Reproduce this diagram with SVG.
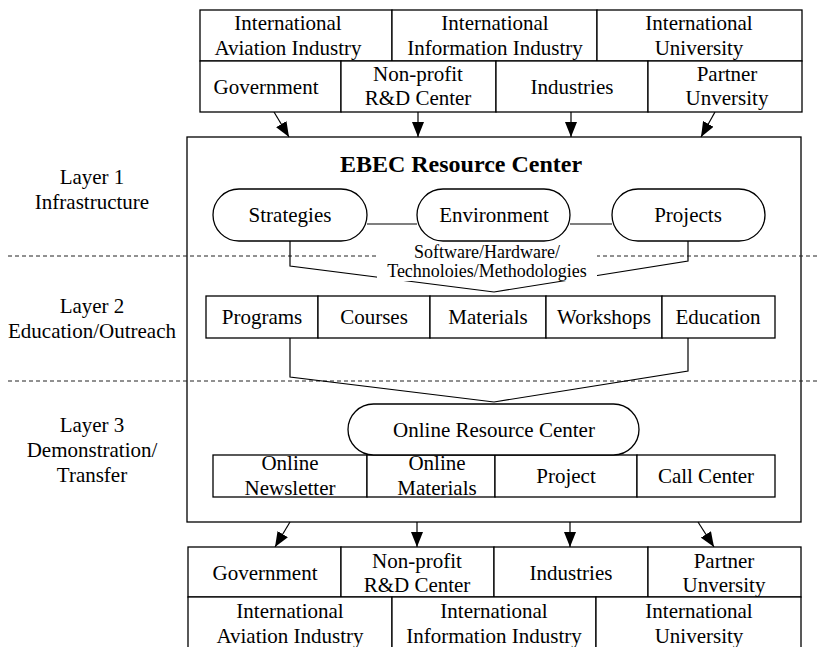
<svg xmlns="http://www.w3.org/2000/svg" width="817" height="647" viewBox="0 0 817 647">
  <style>
    text { font-family: 'Liberation Serif', 'Nimbus Roman', 'Tinos', 'DejaVu Serif', serif; font-size: 21px; fill: #000; text-anchor: middle; }
    .title { font-weight: bold; font-size: 24px; }
    .small { font-size: 18px; }
    .box { fill: #fff; stroke: #000; stroke-width: 1.3; }
    .frame { fill: none; stroke: #000; stroke-width: 1.3; }
    .link { fill: none; stroke: #000; stroke-width: 1.2; }
    .dash { fill: none; stroke: #222; stroke-width: 1; stroke-dasharray: 4 3; }
    .arrow { stroke: #000; stroke-width: 1.2; marker-end: url(#ah); }
  </style>
  <defs>
    <marker id="ah" viewBox="0 0 15 12" refX="15" refY="6" markerUnits="userSpaceOnUse" markerWidth="15" markerHeight="12" orient="auto">
      <path d="M0,0 L15,6 L0,12 z" fill="#000"/>
    </marker>
  </defs>

  <!-- outer resource-center frame -->
  <rect id="resource-center-frame" class="frame" x="187" y="137" width="614" height="385"/>
  <text class="title" x="461" y="172">EBEC Resource Center</text>

  <!-- layer separators -->
  <g id="separators">
    <line class="dash" x1="8" y1="256" x2="817" y2="256"/>
    <line class="dash" x1="8" y1="381" x2="817" y2="381"/>
  </g>

  <!-- layer labels -->
  <g id="layer1-label">
    <text x="92" y="184">Layer 1</text>
    <text x="92" y="209">Infrastructure</text>
  </g>
  <g id="layer2-label">
    <text x="92" y="313">Layer 2</text>
    <text x="92" y="338">Education/Outreach</text>
  </g>
  <g id="layer3-label">
    <text x="92" y="432">Layer 3</text>
    <text x="92" y="457">Demonstration/</text>
    <text x="92" y="482">Transfer</text>
  </g>

  <!-- connectors -->
  <g id="connectors">
    <line class="link" x1="367" y1="224" x2="417" y2="224"/>
    <line class="link" x1="570" y1="224" x2="612" y2="224"/>
    <polyline class="link" points="290,241 290,266 494,292"/>
    <polyline class="link" points="688,241 688,261 494,292"/>
    <polyline class="link" points="290,338 290,377 494,402"/>
    <polyline class="link" points="688,338 688,371 494,402"/>
    <line class="arrow" x1="274" y1="112" x2="289" y2="137"/>
    <line class="arrow" x1="418" y1="112" x2="418" y2="137"/>
    <line class="arrow" x1="571" y1="112" x2="571" y2="137"/>
    <line class="arrow" x1="715" y1="112" x2="701" y2="137"/>
    <line class="arrow" x1="290" y1="522" x2="275" y2="547"/>
    <line class="arrow" x1="417" y1="522" x2="417" y2="547"/>
    <line class="arrow" x1="570" y1="522" x2="570" y2="547"/>
    <line class="arrow" x1="698" y1="522" x2="714" y2="547"/>
  </g>

  <!-- shared resources label -->
  <g id="shared-resources">
    <rect x="377" y="240" width="220" height="41" fill="#fff"/>
    <text class="small" x="487" y="258">Software/Hardware/</text>
    <text class="small" x="487" y="277">Technoloies/Methodologies</text>
  </g>

  <!-- layer 1 nodes -->
  <g id="strategies">
    <rect class="box" x="213" y="189" width="154" height="52" rx="26"/>
    <text x="290" y="222">Strategies</text>
  </g>
  <g id="environment">
    <rect class="box" x="417" y="189" width="153" height="52" rx="26"/>
    <text x="494" y="222">Environment</text>
  </g>
  <g id="projects">
    <rect class="box" x="612" y="189" width="153" height="52" rx="26"/>
    <text x="688" y="222">Projects</text>
  </g>

  <!-- layer 2 nodes -->
  <g id="programs">
    <rect class="box" x="206" y="296" width="112" height="42"/>
    <text x="262" y="324">Programs</text>
  </g>
  <g id="courses">
    <rect class="box" x="318" y="296" width="112" height="42"/>
    <text x="374" y="324">Courses</text>
  </g>
  <g id="materials">
    <rect class="box" x="430" y="296" width="116" height="42"/>
    <text x="488" y="324">Materials</text>
  </g>
  <g id="workshops">
    <rect class="box" x="546" y="296" width="116" height="42"/>
    <text x="604" y="324">Workshops</text>
  </g>
  <g id="education">
    <rect class="box" x="662" y="296" width="113" height="42"/>
    <text x="718" y="324">Education</text>
  </g>

  <!-- layer 3 nodes -->
  <g id="online-newsletter">
    <rect class="box" x="213" y="455" width="154" height="42"/>
    <text x="290" y="470">Online</text>
    <text x="290" y="495">Newsletter</text>
  </g>
  <g id="online-materials">
    <rect class="box" x="367" y="455" width="128" height="42"/>
    <text x="437" y="470">Online</text>
    <text x="437" y="495">Materials</text>
  </g>
  <g id="project">
    <rect class="box" x="495" y="455" width="142" height="42"/>
    <text x="566" y="483">Project</text>
  </g>
  <g id="call-center">
    <rect class="box" x="637" y="455" width="138" height="42"/>
    <text x="706" y="483">Call Center</text>
  </g>
  <g id="online-resource-center">
    <rect class="box" x="348" y="404" width="291" height="51" rx="25.5"/>
    <text x="494" y="437">Online Resource Center</text>
  </g>

  <!-- partners above -->
  <g id="top-intl-aviation">
    <rect class="box" x="200" y="10" width="192" height="51"/>
    <text x="288" y="30">International</text>
    <text x="288" y="55">Aviation Industry</text>
  </g>
  <g id="top-intl-information">
    <rect class="box" x="392" y="10" width="205" height="51"/>
    <text x="495" y="30">International</text>
    <text x="495" y="55">Information Industry</text>
  </g>
  <g id="top-intl-university">
    <rect class="box" x="597" y="10" width="205" height="51"/>
    <text x="699" y="30">International</text>
    <text x="699" y="55">University</text>
  </g>
  <g id="top-government">
    <rect class="box" x="200" y="61" width="141" height="51"/>
    <text x="266" y="94">Government</text>
  </g>
  <g id="top-nonprofit">
    <rect class="box" x="341" y="61" width="155" height="51"/>
    <text x="418" y="81">Non-profit</text>
    <text x="418" y="105">R&amp;D Center</text>
  </g>
  <g id="top-industries">
    <rect class="box" x="496" y="61" width="152" height="51"/>
    <text x="572" y="94">Industries</text>
  </g>
  <g id="top-partner">
    <rect class="box" x="648" y="61" width="154" height="51"/>
    <text x="727" y="81">Partner</text>
    <text x="727" y="105">Unversity</text>
  </g>

  <!-- partners below -->
  <g id="bottom-government">
    <rect class="box" x="188" y="547" width="153" height="50"/>
    <text x="265" y="580">Government</text>
  </g>
  <g id="bottom-nonprofit">
    <rect class="box" x="341" y="547" width="153" height="50"/>
    <text x="417" y="568">Non-profit</text>
    <text x="417" y="592">R&amp;D Center</text>
  </g>
  <g id="bottom-industries">
    <rect class="box" x="494" y="547" width="154" height="50"/>
    <text x="571" y="580">Industries</text>
  </g>
  <g id="bottom-partner">
    <rect class="box" x="648" y="547" width="153" height="50"/>
    <text x="724" y="568">Partner</text>
    <text x="724" y="592">Unversity</text>
  </g>
  <g id="bottom-intl-aviation">
    <rect class="box" x="188" y="597" width="204" height="52"/>
    <text x="290" y="618">International</text>
    <text x="290" y="643">Aviation Industry</text>
  </g>
  <g id="bottom-intl-information">
    <rect class="box" x="392" y="597" width="204" height="52"/>
    <text x="494" y="618">International</text>
    <text x="494" y="643">Information Industry</text>
  </g>
  <g id="bottom-intl-university">
    <rect class="box" x="596" y="597" width="205" height="52"/>
    <text x="699" y="618">International</text>
    <text x="699" y="643">University</text>
  </g>
</svg>
